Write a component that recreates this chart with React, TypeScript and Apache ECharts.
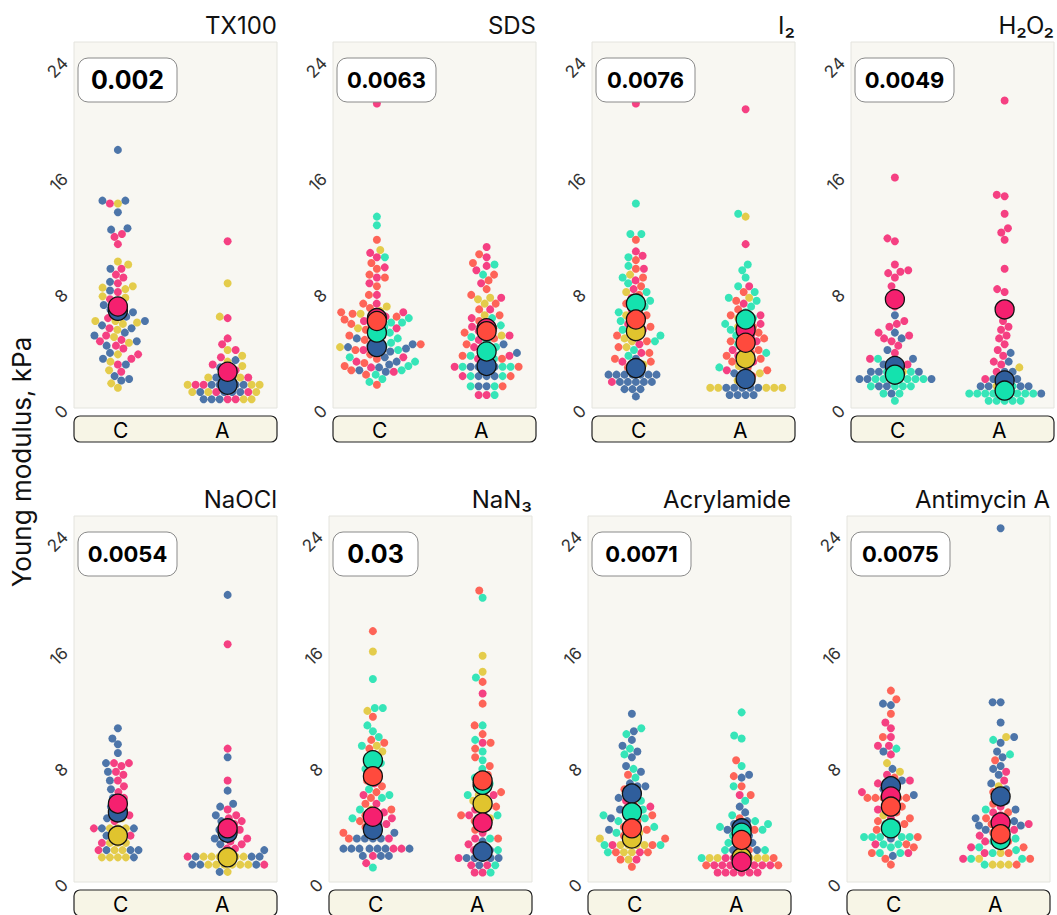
import React, { useEffect, useRef } from "react";
import * as echarts from "echarts";

// ---------- colour groups (order = drawing order) ----------
const GROUPS = ["blue", "yellow", "pink", "teal", "coral"];
const GROUP_COLORS = ["#2F5E9C", "#E0C42E", "#F5206F", "#14E2AE", "#FF4A3D"];

// ---------- categories / ticks ----------
const CATEGORIES = ["C", "A"];
const Y_TICKS = [0, 8, 16, 24];
const TITLES = ["TX100", "SDS", "I₂", "H₂O₂", "NaOCl", "NaN₃", "Acrylamide", "Antimycin A"];
const P_VALUES = ["0.002", "0.0063", "0.0076", "0.0049", "0.0054", "0.03", "0.0071", "0.0075"];

// ---------- TX100 ----------
const TX100_C_blue = [17.8, 14.3, 14.3, 13.5, 12.4, 12.3, 9.6, 8.7, 8.1, 7.4, 7.1, 6.8, 6.6, 6.3, 6.0, 5.7, 5.5, 5.2, 5.0, 4.6, 4.3, 3.8, 3.4, 3.0, 2.2, 2.0, 1.9];
const TX100_C_yellow = [14.1, 10.1, 9.9, 8.4, 8.2, 8.3, 7.7, 7.6, 6.0, 6.0, 5.9, 5.8, 5.4, 4.9, 4.5, 3.7, 3.2, 2.6, 1.7, 1.4];
const TX100_C_pink = [14.1, 12.0, 11.8, 11.3, 9.6, 9.2, 9.0, 8.6, 8.0, 7.5, 7.0, 6.6, 6.2, 5.5, 5.0, 4.7, 4.6, 4.3, 4.1, 3.7, 3.4, 3.0, 2.5];
const TX100_A_blue = [3.3, 2.8, 2.1, 2.1, 2.1, 1.6, 1.6, 1.6, 1.6, 1.6, 1.1, 1.1, 1.1, 1.1, 0.6, 0.6, 0.6];
const TX100_A_yellow = [8.6, 6.3, 4.0, 3.6, 3.2, 2.9, 2.6, 2.1, 2.1, 1.6, 1.6, 1.6, 1.1, 1.1, 1.1, 0.6, 0.6];
const TX100_A_pink = [11.5, 6.2, 4.8, 4.4, 4.0, 3.5, 3.0, 2.6, 2.1, 1.6, 1.6, 1.1, 1.1, 0.6, 0.6];
const TX100_meanC = [6.7, null, 7.0, null, null];
const TX100_meanA = [1.6, null, 2.5, null, null];

// ---------- SDS ----------
const SDS_C_blue = [5.4, 5.0, 4.8, 4.4, 4.3, 4.2, 4.1, 4.0, 3.9, 3.5, 3.2, 3.0, 2.8, 2.6, 2.5];
const SDS_C_yellow = [10.9, 7.0, 6.7, 6.5, 5.5, 4.2];
const SDS_C_pink = [21.0, 10.7, 10.4, 9.7, 9.0, 8.6, 7.8, 7.2, 6.6, 6.3, 6.0, 5.5, 5.0, 4.6, 4.0, 3.5, 3.2, 2.8, 2.5];
const SDS_C_teal = [13.2, 12.6, 10.4, 6.4, 6.2, 6.0, 5.9, 5.9, 5.8, 5.6, 5.2, 4.8, 4.5, 4.3, 4.0, 3.5, 3.2, 2.9, 2.6, 2.3, 2.0, 1.8];
const SDS_C_coral = [11.6, 10.0, 9.6, 9.2, 9.0, 8.4, 7.8, 7.2, 6.9, 6.6, 6.5, 6.3, 6.1, 5.8, 5.4, 5.0, 4.7, 4.4, 4.0, 3.7, 3.4, 3.1, 2.9, 2.6, 2.3, 1.6];
const SDS_A_blue = [4.4, 3.8, 3.4, 2.85, 2.85, 2.85, 2.85, 2.2, 2.2, 2.2, 1.5, 1.5];
const SDS_A_yellow = [7.6, 7.5, 7.2, 6.4, 5.0];
const SDS_A_pink = [11.1, 10.4, 9.8, 9.5, 8.6, 7.6, 6.8, 6.2, 5.6, 5.3, 5.0, 4.7, 4.2, 3.6, 3.4, 2.85, 2.2, 0.9, 0.9];
const SDS_A_teal = [9.9, 9.2, 6.2, 5.7, 5.2, 4.9, 4.6, 4.2, 3.9, 3.6, 3.4, 2.85, 2.85, 2.85, 2.2, 2.2, 1.5, 1.5, 0.9];
const SDS_A_coral = [10.6, 10.0, 9.2, 8.8, 8.2, 7.8, 7.2, 6.8, 6.4, 6.0, 5.8, 5.5, 5.2, 4.8, 4.4, 4.0, 3.6, 3.4, 2.85, 2.2, 1.5];
const SDS_meanC = [4.2, null, 6.2, 5.2, 6.0];
const SDS_meanA = [2.9, null, 5.5, 3.9, 5.3];

// ---------- I2 ----------
const I2_C_blue = [3.4, 2.3, 2.3, 2.3, 2.3, 2.3, 2.3, 2.3, 1.8, 1.8, 1.8, 1.8, 1.8, 1.3, 1.3, 1.3, 0.8];
const I2_C_yellow = [9.2, 8.0, 7.2, 6.4, 5.6, 5.2, 4.8, 4.6, 4.2, 3.0];
const I2_C_pink = [21.0, 10.8, 10.5, 9.6, 8.8, 8.2, 7.6, 6.8, 6.2, 5.8, 5.4, 5.0, 4.4, 3.8, 3.2, 2.8, 1.8];
const I2_C_teal = [14.1, 12.0, 12.0, 10.4, 9.8, 9.0, 8.6, 8.0, 7.4, 7.0, 6.6, 6.0, 5.4, 5.0, 4.6, 4.0, 3.6];
const I2_C_coral = [11.6, 10.2, 9.6, 9.0, 8.4, 7.8, 7.2, 6.6, 6.4, 6.0, 5.6, 5.0, 4.6, 4.2, 3.8, 3.4, 3.2, 2.8];
const I2_A_blue = [2.4, 2.4, 1.9, 1.4, 1.4, 1.4, 1.4, 1.4, 0.9, 0.9, 0.9, 0.9];
const I2_A_yellow = [13.2, 7.6, 6.2, 5.6, 4.8, 4.0, 3.4, 2.9, 2.4, 1.9, 1.4, 1.4, 1.4, 1.4, 1.4];
const I2_A_pink = [20.6, 11.3, 8.4, 7.2, 6.4, 5.8, 5.4, 5.0, 4.6, 4.0, 3.6, 3.2, 2.6];
const I2_A_teal = [13.4, 9.9, 9.5, 9.0, 8.4, 8.0, 7.6, 7.4, 7.0, 6.6, 6.2, 5.8, 5.4, 5.0, 4.4, 3.8, 2.8];
const I2_A_coral = [8.0, 7.4, 6.8, 6.4, 6.0, 5.6, 5.2, 4.8, 4.6, 4.4, 4.0, 3.8, 3.6, 3.4, 3.2, 2.8, 2.6, 2.2];
const I2_meanC = [2.75, 5.3, null, 7.2, 6.1];
const I2_meanA = [2.0, 3.4, 5.4, 6.1, 4.5];

// ---------- H2O2 ----------
const H2O2_C_blue = [6.4, 5.2, 4.8, 4.0, 3.4, 3.0, 2.5, 2.5, 2.5, 2.0, 2.0, 2.0, 1.5, 1.5, 1.0];
const H2O2_C_yellow = [3.0, 2.5, 2.5, 2.0];
const H2O2_C_pink = [15.9, 11.7, 11.5, 9.9, 9.5, 9.4, 9.3, 9.0, 8.4, 7.9, 7.0, 6.0, 5.8, 5.6, 5.2, 5.0, 4.8, 4.6, 4.3, 3.8, 3.4, 3.0];
const H2O2_C_teal = [3.4, 3.0, 2.5, 2.5, 2.0, 2.0, 2.0, 2.0, 2.0, 2.0, 1.5, 1.5, 1.5, 1.5, 1.0, 1.0, 0.5];
const H2O2_A_blue = [3.8, 3.2, 2.5, 2.5, 2.0, 2.0, 2.0, 1.5, 1.5, 1.5, 1.5, 1.0];
const H2O2_A_yellow = [2.8, 1.5, 1.5, 1.0];
const H2O2_A_pink = [21.2, 14.7, 14.6, 13.4, 12.4, 12.1, 11.6, 9.6, 8.2, 8.0, 6.6, 6.0, 5.6, 5.4, 5.0, 4.8, 4.4, 4.0, 3.6, 3.2, 3.0, 2.5, 2.0];
const H2O2_A_teal = [2.0, 1.5, 1.0, 1.0, 1.0, 1.0, 1.0, 1.0, 1.0, 1.0, 0.5, 0.5, 0.5, 0.5, 0.5];
const H2O2_meanC = [2.9, null, 7.5, 2.3, null];
const H2O2_meanA = [1.9, null, 6.8, 1.2, null];

// ---------- NaOCl ----------
const NaOCl_C_blue = [10.6, 9.9, 9.5, 8.9, 8.2, 7.6, 7.0, 6.4, 5.8, 5.2, 4.8, 4.4, 3.7, 3.7, 3.2, 2.2, 2.2, 2.2, 1.7];
const NaOCl_C_yellow = [4.4, 3.7, 3.7, 3.7, 3.2, 3.2, 2.7, 2.7, 2.7, 2.2, 2.2, 1.7, 1.7, 1.7, 1.7];
const NaOCl_C_pink = [8.2, 8.2, 8.0, 7.6, 7.4, 7.0, 6.6, 6.2, 5.8, 5.4, 5.0, 4.6, 4.2, 3.7, 3.2, 2.7, 2.2];
const NaOCl_A_blue = [19.8, 8.6, 6.3, 5.4, 5.2, 4.6, 4.2, 3.6, 3.0, 2.6, 2.2, 1.75, 1.75, 1.75, 1.2, 1.2, 1.2, 0.7];
const NaOCl_A_yellow = [1.75, 1.75, 1.75, 1.75, 1.75, 1.75, 1.2, 1.2, 1.2, 1.2, 1.2, 1.2, 0.7];
const NaOCl_A_pink = [16.4, 9.2, 7.0, 5.0, 4.6, 4.4, 4.2, 4.0, 3.8, 3.6, 3.4, 3.2, 3.0, 2.8, 2.6, 2.3, 2.3, 1.75, 1.2];
const NaOCl_meanC = [4.8, 3.2, 5.4, null, null];
const NaOCl_meanA = [3.4, 1.7, 3.7, null, null];

// ---------- NaN3 ----------
const NaN3_C_blue = [4.0, 3.4, 3.0, 3.0, 3.0, 3.0, 2.3, 2.3, 2.3, 2.3, 2.3, 2.3, 2.3, 1.8, 1.8, 1.8];
const NaN3_C_yellow = [15.9, 11.8, 9.4, 9.0, 5.0, 4.6];
const NaN3_C_pink = [6.8, 6.0, 5.4, 4.8, 4.4, 4.2, 4.0, 3.6, 3.0, 2.3, 2.3, 1.8, 1.3];
const NaN3_C_teal = [14.0, 12.0, 12.0, 10.8, 10.4, 10.0, 9.4, 8.6, 8.2, 7.8, 6.4, 6.0, 5.8, 5.0, 4.4, 1.0];
const NaN3_C_coral = [17.3, 11.4, 9.8, 9.6, 9.2, 8.8, 8.2, 7.6, 7.0, 6.6, 6.2, 5.8, 5.4, 5.0, 4.6, 4.2, 3.8, 3.4, 3.0];
const NaN3_A_blue = [2.8, 2.2, 2.2, 1.65, 1.65, 1.65, 1.65, 1.65, 1.15];
const NaN3_A_yellow = [15.6, 14.5, 6.0, 5.6, 5.2, 4.8, 4.4];
const NaN3_A_pink = [13.0, 9.6, 6.0, 5.0, 4.6, 4.2, 3.8, 3.4, 3.0, 2.6, 2.2, 1.65, 1.15, 1.15, 0.65, 0.65];
const NaN3_A_teal = [19.6, 14.1, 10.8, 9.8, 9.0, 8.4, 7.8, 7.2, 6.8, 6.4, 6.0, 5.4, 4.6, 3.0, 2.2, 1.15, 0.65];
const NaN3_A_coral = [20.1, 13.8, 12.3, 10.8, 10.2, 9.6, 9.2, 8.6, 8.0, 7.4, 7.0, 6.6, 6.2, 5.8, 5.2, 4.6, 4.2, 3.6, 3.0];
const NaN3_meanC = [3.6, null, 4.5, 8.4, 7.3];
const NaN3_meanA = [2.1, 5.4, 4.1, 6.7, 7.0];

// ---------- Acrylamide ----------
const Acryl_C_blue = [11.6, 10.4, 9.8, 9.4, 9.0, 8.6, 8.0, 7.6, 6.8, 6.6, 6.6, 5.8, 5.0, 4.4, 3.6];
const Acryl_C_yellow = [3.4, 3.0, 2.55, 2.55, 2.55, 2.55, 2.05, 2.05, 1.55];
const Acryl_C_pink = [5.6, 5.2, 4.8, 4.4, 3.8, 3.2, 2.55, 2.05, 1.55];
const Acryl_C_teal = [10.6, 10.2, 9.2, 8.8, 7.8, 7.2, 6.2, 5.6, 5.0, 4.6, 4.4, 4.2, 3.8, 3.4, 2.55, 2.55, 2.05];
const Acryl_C_coral = [7.4, 6.4, 5.4, 5.0, 4.6, 4.2, 3.8, 3.6, 3.2, 3.0, 2.55, 2.05, 2.05, 1.55, 1.05];
const Acryl_A_blue = [7.4, 7.2, 5.2, 4.8, 4.2, 4.0, 3.8, 3.6, 3.2, 2.7, 2.7, 2.2, 2.2];
const Acryl_A_yellow = [2.2, 1.65, 1.65, 1.65, 1.65, 1.65, 1.65];
const Acryl_A_pink = [6.0, 1.65, 1.65, 1.15, 1.15, 1.15, 1.15, 1.15, 1.15, 1.15, 1.15, 0.65, 0.65, 0.65, 0.65, 0.65, 0.65];
const Acryl_A_teal = [11.7, 10.1, 9.9, 8.0, 6.6, 5.6, 4.6, 4.2, 4.0, 3.8, 3.6, 3.2, 2.7, 2.2, 2.2, 1.65];
const Acryl_A_coral = [8.4, 7.3, 6.6, 6.0, 4.4, 3.6, 3.2, 2.7, 2.2, 1.65, 1.15, 1.15];
const Acryl_meanC = [6.1, 3.0, null, 4.8, 3.7];
const Acryl_meanA = [3.7, 1.7, 1.4, 3.4, 2.9];

// ---------- Antimycin A ----------
const Anti_C_blue = [12.3, 12.2, 9.0, 7.8, 7.0, 6.4, 6.0, 5.0, 4.0, 3.0, 1.8];
const Anti_C_yellow = [8.2, 7.6, 6.8, 4.6];
const Anti_C_pink = [11.0, 10.6, 10.0, 9.4, 9.4, 8.8, 7.4, 7.0, 6.8, 6.2, 5.6, 5.0, 4.4, 3.6, 2.6, 2.0];
const Anti_C_teal = [9.2, 4.0, 3.1, 3.1, 3.1, 3.1, 3.1, 2.6, 2.6, 2.4, 2.0, 2.0];
const Anti_C_coral = [13.2, 12.6, 11.6, 10.0, 7.2, 6.6, 6.2, 5.8, 5.8, 5.8, 5.8, 5.8, 5.2, 4.8, 4.4, 4.2, 4.0, 3.6, 3.1, 2.6, 2.4, 2.0, 1.6, 1.2];
const Anti_A_blue = [24.4, 12.4, 12.4, 11.0, 10.0, 9.6, 9.0, 8.6, 8.0, 7.8, 7.4, 6.8, 6.4, 6.0, 5.6, 5.0, 4.4, 4.2, 3.9, 3.9, 3.9, 3.6];
const Anti_A_yellow = [10.0, 6.6, 2.0, 1.6, 1.2, 1.2, 1.2];
const Anti_A_pink = [7.6, 7.0, 5.2, 4.8, 4.6, 4.2, 4.0, 3.6, 3.2, 2.8, 2.4, 2.0, 1.6];
const Anti_A_teal = [9.8, 8.8, 5.0, 3.6, 3.0, 2.8, 2.6, 2.4, 2.2, 2.0, 1.6, 1.6, 1.2];
const Anti_A_coral = [8.4, 6.2, 5.4, 4.8, 4.4, 4.0, 3.4, 3.2, 2.8, 2.4, 2.0, 1.6, 1.2];
const Anti_meanC = [6.6, null, 5.9, 3.7, 5.2];
const Anti_meanA = [5.9, null, 4.1, 2.9, 3.3];

// groups in GROUPS order: blue, yellow, pink, teal, coral
const PANEL_POINTS = [
  [[TX100_C_blue, TX100_C_yellow, TX100_C_pink, [], []], [TX100_A_blue, TX100_A_yellow, TX100_A_pink, [], []]],
  [[SDS_C_blue, SDS_C_yellow, SDS_C_pink, SDS_C_teal, SDS_C_coral], [SDS_A_blue, SDS_A_yellow, SDS_A_pink, SDS_A_teal, SDS_A_coral]],
  [[I2_C_blue, I2_C_yellow, I2_C_pink, I2_C_teal, I2_C_coral], [I2_A_blue, I2_A_yellow, I2_A_pink, I2_A_teal, I2_A_coral]],
  [[H2O2_C_blue, H2O2_C_yellow, H2O2_C_pink, H2O2_C_teal, []], [H2O2_A_blue, H2O2_A_yellow, H2O2_A_pink, H2O2_A_teal, []]],
  [[NaOCl_C_blue, NaOCl_C_yellow, NaOCl_C_pink, [], []], [NaOCl_A_blue, NaOCl_A_yellow, NaOCl_A_pink, [], []]],
  [[NaN3_C_blue, NaN3_C_yellow, NaN3_C_pink, NaN3_C_teal, NaN3_C_coral], [NaN3_A_blue, NaN3_A_yellow, NaN3_A_pink, NaN3_A_teal, NaN3_A_coral]],
  [[Acryl_C_blue, Acryl_C_yellow, Acryl_C_pink, Acryl_C_teal, Acryl_C_coral], [Acryl_A_blue, Acryl_A_yellow, Acryl_A_pink, Acryl_A_teal, Acryl_A_coral]],
  [[Anti_C_blue, Anti_C_yellow, Anti_C_pink, Anti_C_teal, Anti_C_coral], [Anti_A_blue, Anti_A_yellow, Anti_A_pink, Anti_A_teal, Anti_A_coral]],
];
const PANEL_MEANS = [
  [TX100_meanC, TX100_meanA],
  [SDS_meanC, SDS_meanA],
  [I2_meanC, I2_meanA],
  [H2O2_meanC, H2O2_meanA],
  [NaOCl_meanC, NaOCl_meanA],
  [NaN3_meanC, NaN3_meanA],
  [Acryl_meanC, Acryl_meanA],
  [Anti_meanC, Anti_meanA],
];

// ---------- layout (styling) ----------
const W = 1057;
const H = 915;
const ROW_TOPS = [42, 516];
const ROW_LEFTS = [
  [74, 333, 592, 851],
  [74, 329, 588, 847],
];
const GRID_W = 203;
const GRID_H = 366;
const Y_MAX = 25.24;
const X_MIN = 0.6;
const X_MAX = 2.45;
const DOT = 8;
const MEAN_DOT = 19;
const FONT = "Inter, 'Noto Sans', 'DejaVu Sans', sans-serif";

// beeswarm layout: returns horizontal pixel offsets for each value
function swarmOffsets(vals: number[], d: number, pxPerY: number): number[] {
  const order = vals.map((_, i) => i).sort((a, b) => vals[a] - vals[b] || a - b);
  const placed: { x: number; y: number }[] = [];
  const out = new Array(vals.length).fill(0);
  for (const i of order) {
    const y = vals[i] * pxPerY;
    const neigh = placed.filter((p) => Math.abs(p.y - y) < d);
    const cands = [0];
    for (const p of neigh) {
      const dx = Math.sqrt(Math.max(0, d * d - (p.y - y) * (p.y - y)));
      cands.push(p.x + dx, p.x - dx);
    }
    cands.sort((a, b) => Math.abs(a) - Math.abs(b) || a - b);
    let best = 0;
    for (const c of cands) {
      if (neigh.every((p) => (p.x - c) * (p.x - c) + (p.y - y) * (p.y - y) >= d * d - 1e-6)) {
        best = c;
        break;
      }
    }
    placed.push({ x: best, y });
    out[i] = best;
  }
  return out;
}

function buildOption() {
  const grids: any[] = [];
  const xAxes: any[] = [];
  const yAxes: any[] = [];
  const series: any[] = [];
  const graphics: any[] = [];
  const pxPerY = GRID_H / Y_MAX;
  const pxPerX = GRID_W / (X_MAX - X_MIN);

  PANEL_POINTS.forEach((cols, pi) => {
    const row = Math.floor(pi / 4);
    const left = ROW_LEFTS[row][pi % 4];
    const top = ROW_TOPS[row];
    grids.push({
      left,
      top,
      width: GRID_W,
      height: GRID_H,
      show: true,
      backgroundColor: "#F8F7F2",
      borderColor: "#E4E4DE",
      borderWidth: 1,
    });
    xAxes.push({ type: "value", gridIndex: pi, min: X_MIN, max: X_MAX, show: false });
    yAxes.push({
      type: "value",
      gridIndex: pi,
      min: 0,
      max: Y_MAX,
      interval: 8,
      axisLine: { show: false },
      axisTick: { show: false },
      splitLine: { show: false },
      axisLabel: {
        rotate: 45,
        margin: 9,
        color: "#333",
        fontSize: 17,
        fontFamily: FONT,
        showMaxLabel: false,
        formatter: (v: number) => (Y_TICKS.indexOf(v) >= 0 ? String(v) : ""),
      },
    });

    // swarm points per colour group (interleaved so equal values alternate colours)
    const perGroup: number[][][] = GROUPS.map(() => []);
    cols.forEach((groups, ci) => {
      const center = ci + 1;
      const flat: { v: number; g: number }[] = [];
      const maxLen = Math.max(...groups.map((a) => a.length));
      for (let k = 0; k < maxLen; k++) {
        groups.forEach((arr, gi) => {
          if (k < arr.length) flat.push({ v: arr[k], g: gi });
        });
      }
      const offs = swarmOffsets(flat.map((f) => f.v), DOT, pxPerY);
      flat.forEach((f, k) => perGroup[f.g].push([center + offs[k] / pxPerX, f.v]));
    });
    perGroup.forEach((data, gi) => {
      if (!data.length) return;
      series.push({
        type: "scatter",
        xAxisIndex: pi,
        yAxisIndex: pi,
        symbolSize: DOT,
        data,
        itemStyle: { color: GROUP_COLORS[gi], opacity: 0.85 },
        silent: true,
        z: 2,
      });
    });

    // means
    const meanData: any[] = [];
    PANEL_MEANS[pi].forEach((means, ci) => {
      means.forEach((m, gi) => {
        if (m === null) return;
        meanData.push({ value: [ci + 1, m], itemStyle: { color: GROUP_COLORS[gi] } });
      });
    });
    series.push({
      type: "scatter",
      xAxisIndex: pi,
      yAxisIndex: pi,
      symbolSize: MEAN_DOT,
      data: meanData,
      itemStyle: { borderColor: "#111", borderWidth: 1.3, opacity: 1 },
      silent: true,
      z: 3,
    });

    // title
    graphics.push({
      type: "text",
      x: left + GRID_W,
      y: top - 17,
      z: 10,
      style: {
        text: TITLES[pi],
        font: `24px ${FONT}`,
        fill: "#111",
        textAlign: "right",
        textVerticalAlign: "middle",
      },
    });
    // p-value box
    const pText = P_VALUES[pi];
    const bw = pText.length <= 4 ? 85 : 99;
    graphics.push({
      type: "rect",
      x: left + 4,
      y: top + 16,
      z: 10,
      shape: { width: bw, height: 44, r: 10 },
      style: { fill: "#FFFFFF", stroke: "#8A8A8A", lineWidth: 1 },
    });
    graphics.push({
      type: "text",
      x: left + 4 + bw / 2,
      y: top + 38,
      z: 11,
      style: {
        text: pText,
        font: `bold ${pText.length <= 5 ? 25 : 22}px ${FONT}`,
        fill: "#000",
        textAlign: "center",
        textVerticalAlign: "middle",
      },
    });
    // strip with category labels
    graphics.push({
      type: "rect",
      x: left,
      y: top + GRID_H + 8,
      z: 10,
      shape: { width: GRID_W, height: 26, r: 6 },
      style: { fill: "#F7F5E6", stroke: "#222", lineWidth: 1.2 },
    });
    CATEGORIES.forEach((c, ci) => {
      graphics.push({
        type: "text",
        x: left + GRID_W * (ci === 0 ? 0.23 : 0.73),
        y: top + GRID_H + 22,
        z: 11,
        style: {
          text: c,
          font: `21px ${FONT}`,
          fill: "#000",
          textAlign: "center",
          textVerticalAlign: "middle",
        },
      });
    });
  });

  graphics.push({
    type: "text",
    x: 21,
    y: 462,
    rotation: Math.PI / 2,
    z: 10,
    style: {
      text: "Young modulus, kPa",
      font: `26px ${FONT}`,
      fill: "#111",
      textAlign: "center",
      textVerticalAlign: "middle",
    },
  });

  return {
    animation: false,
    backgroundColor: "#FFFFFF",
    grid: grids,
    xAxis: xAxes,
    yAxis: yAxes,
    series,
    graphic: graphics,
  };
}

export default function App() {
  const ref = useRef<HTMLDivElement>(null);
  useEffect(() => {
    document.body.style.margin = "0";
    if (!ref.current) return;
    const chart = echarts.init(ref.current, undefined, { renderer: "svg" });
    chart.setOption(buildOption() as any);
    return () => chart.dispose();
  }, []);
  return <div ref={ref} style={{ width: W, height: H }} />;
}
